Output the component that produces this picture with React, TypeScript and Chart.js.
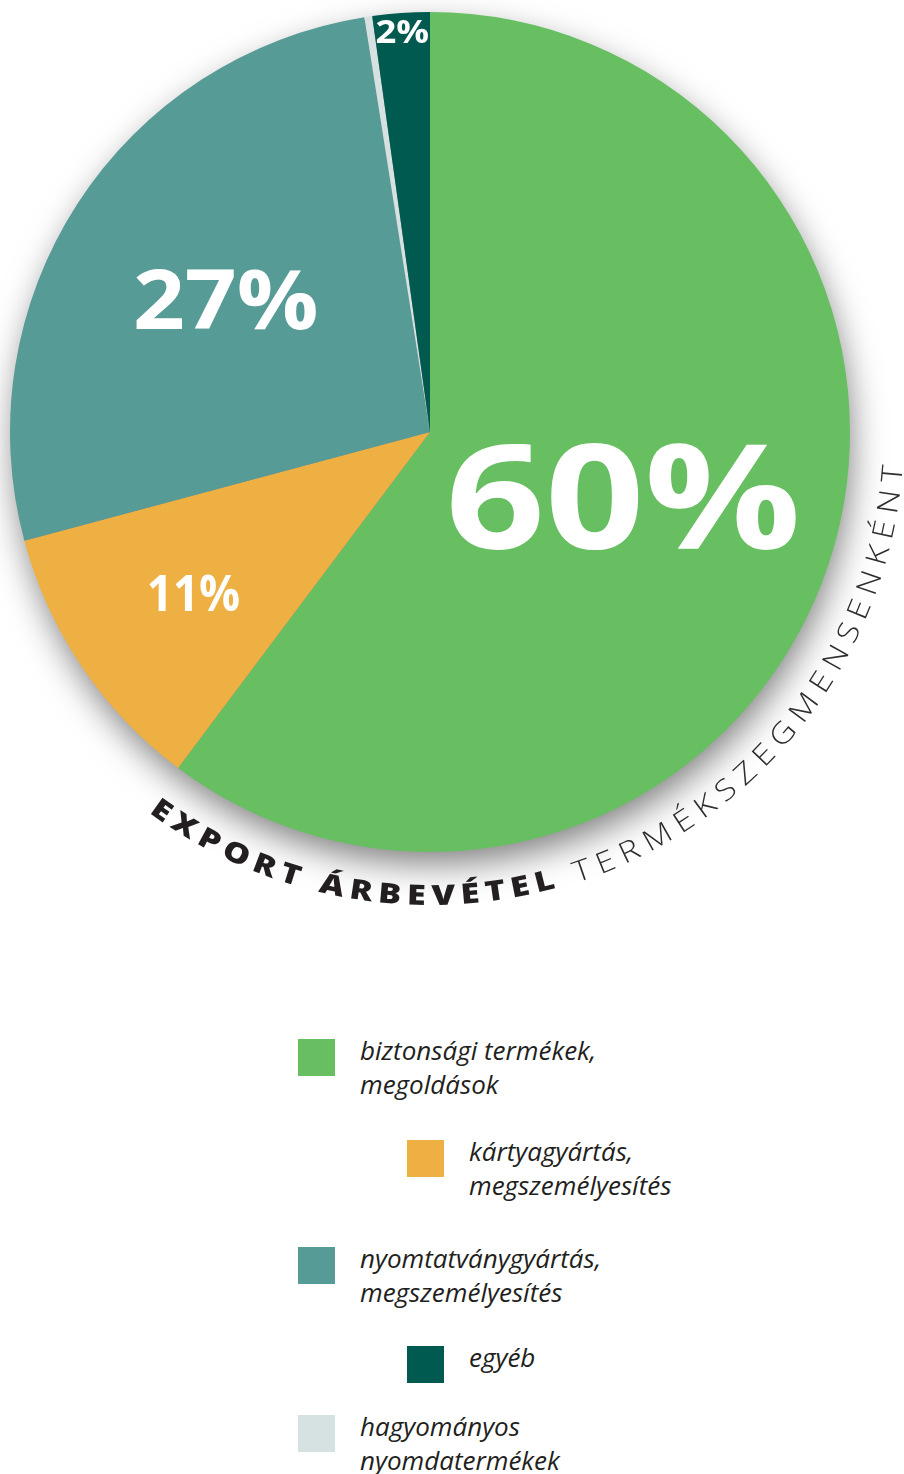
import React, { useEffect, useRef } from 'react';
import { Chart, registerables } from 'chart.js';

Chart.register(...registerables);

// ---------- data ----------
const CATEGORIES = [
  'biztonsági termékek,\nmegoldások',
  'kártyagyártás,\nmegszemélyesítés',
  'nyomtatványgyártás,\nmegszemélyesítés',
  'hagyományos\nnyomdatermékek',
  'egyéb',
];
const VALUES = [60.3, 10.6, 26.7, 0.3, 2.2];
const COLORS = ['#67BF62', '#EEB042', '#579B97', '#D6E2E2', '#015A50'];
const TITLE_BOLD = 'EXPORT ÁRBEVÉTEL';
const TITLE_LIGHT = 'TERMÉKSZEGMENSENKÉNT';

// legend display order (indices into CATEGORIES)
const LEGEND_ORDER = [0, 1, 2, 4, 3];

// ---------- styling / layout ----------
const LABEL_STYLE: ({ r: number; cap: number; width: number } | null)[] = [
  { r: 0.485, cap: 106, width: 345 },
  { r: 0.68, cap: 37, width: 90 },
  { r: 0.58, cap: 60, width: 180 },
  null,
  { r: 0.957, cap: 23, width: 52 },
];
const LEGEND_SQUARE_TOPS = [1039, 1140, 1247, 1346, 1415];
const LEGEND_SQUARE_X = [298, 407, 298, 407, 298];
const LEGEND_TEXT_GAP = 62;
const LABEL_FONT = '"Open Sans", "DejaVu Sans", sans-serif';

const deg = (d: number) => (d * Math.PI) / 180;

function drawArcText(
  ctx: CanvasRenderingContext2D,
  cx: number,
  cy: number,
  text: string,
  font: string,
  color: string,
  stretch: number,
  a0: number,
  a1: number,
  rBase: number,
  rRef: number
) {
  ctx.save();
  ctx.font = font;
  ctx.fillStyle = color;
  ctx.textAlign = 'center';
  ctx.textBaseline = 'alphabetic';
  const chars = Array.from(text);
  const widths = chars.map((c) => ctx.measureText(c).width * stretch);
  const total = widths.reduce((a, b) => a + b, 0);
  const arcLen = (a0 - a1) * rRef;
  const track = (arcLen - total) / (chars.length - 1);
  let cur = a0;
  chars.forEach((c, i) => {
    const w = widths[i];
    const ac = cur - w / 2 / rRef;
    ctx.save();
    ctx.translate(cx + rBase * Math.cos(ac), cy + rBase * Math.sin(ac));
    ctx.rotate(ac - Math.PI / 2);
    ctx.scale(stretch, 1);
    ctx.fillText(c, 0, 0);
    ctx.restore();
    cur -= (w + track) / rRef;
  });
  ctx.restore();
}

const shadowPlugin = {
  id: 'pieShadow',
  beforeDatasetsDraw(chart: any) {
    const ctx = chart.ctx as CanvasRenderingContext2D;
    const arc = chart.getDatasetMeta(0).data[0];
    if (!arc) return;
    const { x, y, outerRadius } = arc.getProps(['x', 'y', 'outerRadius'], true);
    ctx.save();
    ctx.shadowColor = 'rgba(0,0,0,0.5)';
    ctx.shadowBlur = 34;
    ctx.shadowOffsetX = 3;
    ctx.shadowOffsetY = 14;
    ctx.beginPath();
    ctx.arc(x, y, outerRadius - 2, 0, Math.PI * 2);
    ctx.fillStyle = '#888';
    ctx.fill();
    ctx.restore();
  },
};

const sliceLabelPlugin = {
  id: 'sliceLabels',
  afterDatasetsDraw(chart: any) {
    const ctx = chart.ctx as CanvasRenderingContext2D;
    const meta = chart.getDatasetMeta(0);
    meta.data.forEach((arc: any, i: number) => {
      const st = LABEL_STYLE[i];
      const v = VALUES[i];
      if (!st || Math.round(v) < 1) return;
      const { x, y, startAngle, endAngle, outerRadius } = arc.getProps(
        ['x', 'y', 'startAngle', 'endAngle', 'outerRadius'],
        true
      );
      const mid = (startAngle + endAngle) / 2;
      const px = x + Math.cos(mid) * outerRadius * st.r;
      const py = y + Math.sin(mid) * outerRadius * st.r;
      const text = Math.round(v) + '%';
      ctx.save();
      ctx.font = `bold 100px ${LABEL_FONT}`;
      const m = ctx.measureText('0');
      const size = (100 * st.cap) / m.actualBoundingBoxAscent;
      ctx.font = `bold ${size}px ${LABEL_FONT}`;
      const m2 = ctx.measureText(text);
      const w = m2.actualBoundingBoxLeft + m2.actualBoundingBoxRight;
      const sx = st.width / w;
      ctx.translate(px, py);
      ctx.scale(sx, 1);
      ctx.textAlign = 'center';
      ctx.textBaseline = 'alphabetic';
      ctx.fillStyle = '#ffffff';
      ctx.fillText(text, 0, st.cap / 2);
      ctx.restore();
    });
  },
};

const arcTitlePlugin = {
  id: 'arcTitle',
  afterDraw(chart: any) {
    const ctx = chart.ctx as CanvasRenderingContext2D;
    const arc = chart.getDatasetMeta(0).data[0];
    if (!arc) return;
    const { x, y } = arc.getProps(['x', 'y'], true);
    drawArcText(ctx, x, y, TITLE_BOLD, `800 28px ${LABEL_FONT}`, '#231F20', 1.22, deg(126.5), deg(74.5), 473, 462);
    drawArcText(ctx, x, y, TITLE_LIGHT, `300 29px ${LABEL_FONT}`, '#2E2E2E', 1.15, deg(72), deg(4.1), 474, 462);
  },
};

function PieChart() {
  const ref = useRef<HTMLCanvasElement | null>(null);
  useEffect(() => {
    if (!ref.current) return;
    const chart = new Chart(ref.current, {
      type: 'pie',
      data: {
        labels: CATEGORIES,
        datasets: [
          {
            data: VALUES,
            backgroundColor: COLORS,
            borderWidth: 0,
            hoverOffset: 0,
          },
        ],
      },
      options: {
        responsive: false,
        maintainAspectRatio: false,
        animation: false,
        events: [],
        layout: { padding: { left: 10, top: 12, right: 54, bottom: 108 } },
        plugins: {
          legend: { display: false },
          tooltip: { enabled: false },
          title: { display: false },
        },
      },
      plugins: [shadowPlugin, sliceLabelPlugin, arcTitlePlugin],
    });
    return () => chart.destroy();
  }, []);
  return (
    <canvas
      ref={ref}
      width={904}
      height={960}
      style={{ position: 'absolute', left: 0, top: 0, width: 904, height: 960 }}
    />
  );
}

export default function App() {
  const FS = 26;
  const LH = 34;
  const baselineOffset = (LH - 1.362 * FS) / 2 + 1.069 * FS;
  return (
    <div
      style={{
        position: 'absolute',
        left: 0,
        top: 0,
        width: 904,
        height: 1474,
        background: '#ffffff',
        overflow: 'hidden',
      }}
    >
      <PieChart />
      {LEGEND_ORDER.map((ci, k) => {
        const top = LEGEND_SQUARE_TOPS[k];
        const sx = LEGEND_SQUARE_X[k];
        return (
          <React.Fragment key={ci}>
            <div
              style={{
                position: 'absolute',
                left: sx,
                top,
                width: 37,
                height: 37,
                background: COLORS[ci],
              }}
            />
            <div
              style={{
                position: 'absolute',
                left: sx + LEGEND_TEXT_GAP,
                top: top + 21 - baselineOffset,
                fontFamily: LABEL_FONT,
                fontStyle: 'italic',
                fontSize: FS,
                lineHeight: LH + 'px',
                color: '#231F20',
                whiteSpace: 'pre',
              }}
            >
              {CATEGORIES[ci]}
            </div>
          </React.Fragment>
        );
      })}
    </div>
  );
}
